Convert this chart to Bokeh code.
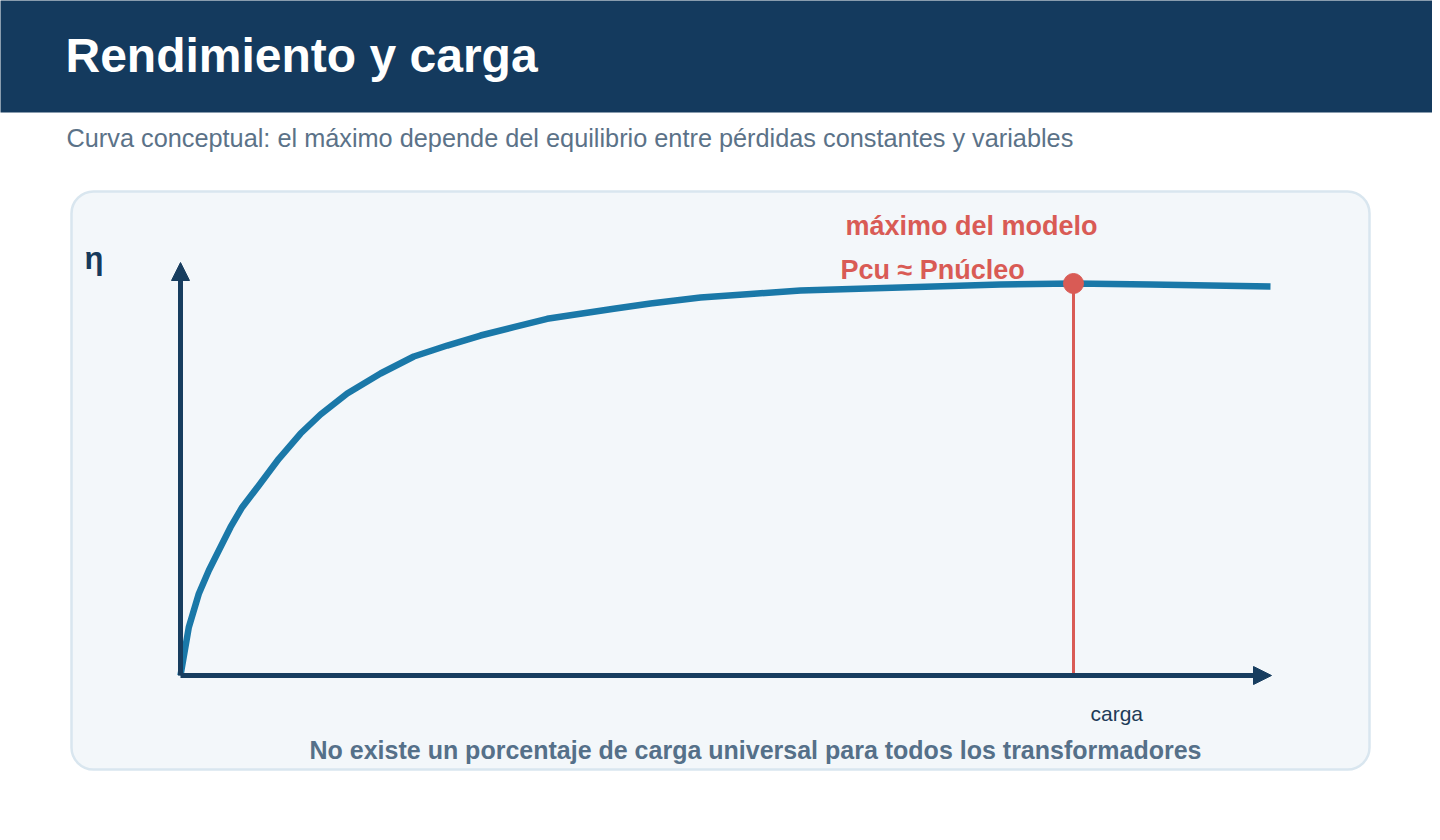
import numpy as np
from bokeh.plotting import figure
from bokeh.models import BoxAnnotation, Arrow, NormalHead, Range1d
from bokeh.core.properties import value
from bokeh.embed import file_html
from bokeh.resources import INLINE

# ---- data (conceptual curve) ----
carga = [0.0, 0.0093, 0.0205, 0.0317, 0.0429, 0.0560, 0.0691, 0.0877, 0.1101, 0.1344,
         0.1568, 0.1867, 0.2240, 0.2613, 0.2987, 0.3360, 0.3732, 0.4106, 0.4479, 0.4852,
         0.5263, 0.5823, 0.6383, 0.6943, 0.7503, 0.8063, 0.8623, 0.9183, 1.0, 1.0862, 1.2206]
eta = [0.0, 0.1232, 0.2084, 0.2679, 0.3189, 0.3783, 0.4293, 0.4847, 0.5528, 0.6173,
       0.6658, 0.7194, 0.7704, 0.8138, 0.8418, 0.8673, 0.8885, 0.9099, 0.9227, 0.9355,
       0.9490, 0.9643, 0.9732, 0.9821, 0.9860, 0.9898, 0.9936, 0.9974, 1.0, 0.9974, 0.9923]

title = "Rendimiento y carga"
subtitle = "Curva conceptual: el máximo depende del equilibrio entre pérdidas constantes y variables"
label_max = "máximo del modelo"
label_eq = "Pcu ≈ Pnúcleo"
y_label = "η"
x_label = "carga"
note = "No existe un porcentaje de carga universal para todos los transformadores"

# ---- layout helpers (canvas pixels -> data units) ----
W, H = 1432, 832
OX, OY = 180.0, 675.0      # origin on canvas
SX, SY = 893.0, 392.0      # px per unit


def dx(px):
    return (px - OX) / SX


def dy(py):
    return (OY - py) / SY


FONT = "Liberation Sans"
NAVY = "#143A5E"
AXIS = "#173D5F"
BLUE = "#1A78A8"
RED = "#D95B55"

p = figure(width=W, height=H, output_backend="svg", toolbar_location=None,
           x_range=Range1d(dx(0), dx(W)), y_range=Range1d(dy(H), dy(0)),
           min_border=0, outline_line_color=None, background_fill_color="white",
           border_fill_color="white")
p.axis.visible = False
p.grid.visible = False

# header band
p.add_layout(BoxAnnotation(left=dx(-20), right=dx(1460), top=dy(-20), bottom=dy(112),
                           fill_color=NAVY, fill_alpha=1, line_color=None, level="underlay"))
# panel
p.add_layout(BoxAnnotation(left=dx(71), right=dx(1369), top=dy(191), bottom=dy(769),
                           fill_color="#F3F7FA", fill_alpha=1, line_color="#D9E6EF",
                           line_alpha=1, line_width=2.5, border_radius=22, level="underlay"))

# axes arrows
p.add_layout(Arrow(end=NormalHead(size=18, fill_color=AXIS, line_color=AXIS),
                   x_start=0, y_start=0, x_end=0, y_end=dy(262),
                   line_color=AXIS, line_width=5))
p.add_layout(Arrow(end=NormalHead(size=18, fill_color=AXIS, line_color=AXIS),
                   x_start=0, y_start=0, x_end=dx(1271), y_end=0,
                   line_color=AXIS, line_width=5))

# curve
p.line(carga, eta, line_color=BLUE, line_width=6.5, line_join="round")

# maximum
i_max = int(np.argmax(eta))
xm, ym = carga[i_max], eta[i_max]
p.segment(x0=[xm], y0=[0], x1=[xm], y1=[ym], line_color=RED, line_width=3)
p.scatter([xm], [ym], size=20, fill_color=RED, line_color=RED)


def txt(x, y, s, size, color, bold=False, align="left"):
    p.text(x=[x], y=[y], text=[s], text_font=value(FONT), text_font_size=f"{size}px",
           text_color=color, text_font_style="bold" if bold else "normal",
           text_align=align, text_baseline="middle")


txt(dx(65), dy(55), title, 48, "white", bold=True)
txt(dx(66), dy(137), subtitle, 25.3, "#5B7288")
txt(dx(84), dy(258), y_label, 31, "#163A5C", bold=True)
txt(dx(845), dy(225), label_max, 27, RED, bold=True)
txt(dx(840), dy(269), label_eq, 27, RED, bold=True)
txt(dx(1090), dy(713), x_label, 21, "#1D3B58")
txt(dx(755), dy(749), note, 25, "#557089", bold=True, align="center")

open("out.html", "w").write(file_html(p, INLINE))
